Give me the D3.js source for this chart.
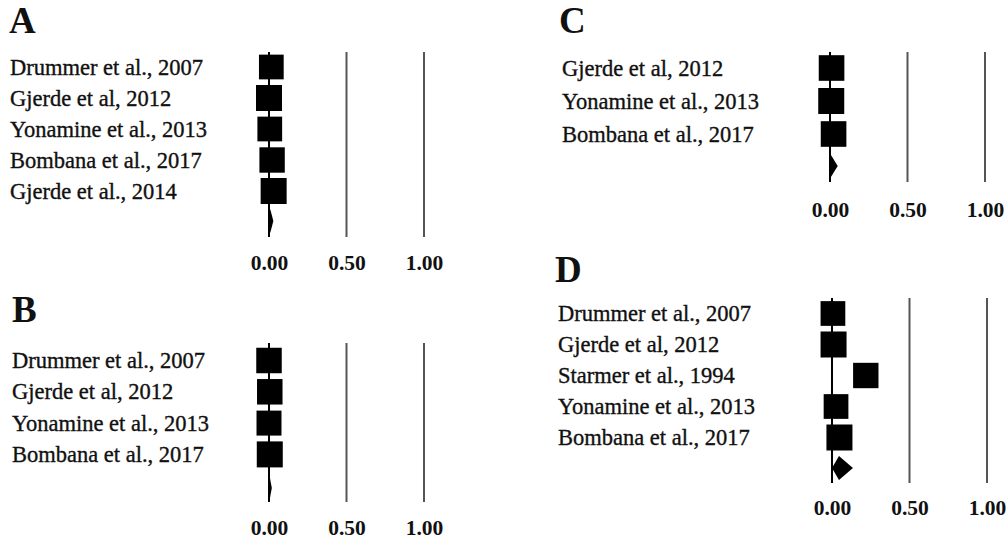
<!DOCTYPE html>
<html>
<head>
<meta charset="utf-8">
<script src="https://cdn.jsdelivr.net/npm/d3@7"></script>
<style>
  html, body { margin: 0; padding: 0; background: #fff; }
  svg { display: block; }
  text { font-family: "Liberation Serif", "Times New Roman", serif; fill: #111; }
</style>
</head>
<body>
<svg id="chart" width="1008" height="544"></svg>
<script>
// Forest plots: pooled proportions per study, four sub-analyses (A–D)

const tickValues = [0, 0.5, 1];

// Panel A
const studiesA = ["Drummer et al., 2007", "Gjerde et al, 2012", "Yonamine et al., 2013", "Bombana et al., 2017", "Gjerde et al., 2014"];
const estimatesA = [0.015, 0.0, 0.005, 0.02, 0.03];
const weightsA = [19, 21, 19, 20, 21];
const pooledA = [0.008, 0.0, 0.028];   // estimate, lower, upper

// Panel B
const studiesB = ["Drummer et al., 2007", "Gjerde et al, 2012", "Yonamine et al., 2013", "Bombana et al., 2017"];
const estimatesB = [0.0, 0.005, 0.0, 0.005];
const weightsB = [25, 25, 24, 26];
const pooledB = [0.004, 0.0, 0.018];

// Panel C
const studiesC = ["Gjerde et al, 2012", "Yonamine et al., 2013", "Bombana et al., 2017"];
const estimatesC = [0.01, 0.008, 0.023];
const weightsC = [33, 34, 33];
const pooledC = [0.002, 0.0, 0.05];

// Panel D
const studiesD = ["Drummer et al., 2007", "Gjerde et al, 2012", "Starmer et al., 1994", "Yonamine et al., 2013", "Bombana et al., 2017"];
const estimatesD = [0.006, 0.01, 0.218, 0.026, 0.048];
const weightsD = [19, 21, 20, 19, 21];
const pooledD = [0.045, 0.0, 0.135];

const svg = d3.select("#chart");

const panels = [
  { letter: "A", lx: 9,   ly: 33,  tx: 10,  zero: 269, top: 52,  bottom: 237, row0: 67,    step: 31,  pooledY: 221, tickY: 270,
    studies: studiesA, est: estimatesA, w: weightsA, pooled: pooledA },
  { letter: "B", lx: 12,  ly: 322, tx: 12,  zero: 269, top: 343, bottom: 502, row0: 360.5, step: 31.3, pooledY: 488, tickY: 535,
    studies: studiesB, est: estimatesB, w: weightsB, pooled: pooledB },
  { letter: "C", lx: 559, ly: 33,  tx: 562, zero: 830, top: 52,  bottom: 182, row0: 68,    step: 33,  pooledY: 166, tickY: 217,
    studies: studiesC, est: estimatesC, w: weightsC, pooled: pooledC },
  { letter: "D", lx: 555, ly: 282, tx: 558, zero: 832, top: 298, bottom: 483, row0: 313.5, step: 31,  pooledY: 468, tickY: 515,
    studies: studiesD, est: estimatesD, w: weightsD, pooled: pooledD }
];

panels.forEach(p => {
  const g = svg.append("g");
  const x = d3.scaleLinear().domain([0, 1]).range([p.zero, p.zero + 155]);
  const y = d3.scalePoint()
    .domain(p.studies)
    .range([p.row0, p.row0 + p.step * (p.studies.length - 1)]);
  const side = d3.scaleSqrt().domain([0, d3.max(p.w)]).range([0, 26]);

  // panel letter
  g.append("text")
    .attr("x", p.lx).attr("y", p.ly)
    .attr("font-size", 37).attr("font-weight", "bold")
    .text(p.letter);

  // reference lines at 0.50 and 1.00
  g.selectAll("line.ref")
    .data(tickValues.filter(v => v > 0))
    .join("line")
    .attr("class", "ref")
    .attr("x1", d => x(d)).attr("x2", d => x(d))
    .attr("y1", p.top).attr("y2", p.bottom)
    .attr("stroke", "#555").attr("stroke-width", 2);

  // line of no effect
  g.append("line")
    .attr("x1", x(0)).attr("x2", x(0))
    .attr("y1", p.top).attr("y2", p.bottom)
    .attr("stroke", "#000").attr("stroke-width", 2);

  // study labels
  g.selectAll("text.study")
    .data(p.studies)
    .join("text")
    .attr("class", "study")
    .attr("x", p.tx)
    .attr("y", d => y(d))
    .attr("dy", "0.34em")
    .attr("font-size", 22.5)
    .attr("stroke", "#111")
    .attr("stroke-width", 0.35)
    .text(d => d);

  // study squares sized by weight
  const rows = p.studies.map((s, i) => ({ s, e: p.est[i], w: p.w[i] }));
  g.selectAll("rect.study")
    .data(rows)
    .join("rect")
    .attr("class", "study")
    .attr("x", d => x(d.e) - side(d.w) / 2)
    .attr("y", d => y(d.s) - side(d.w) / 2)
    .attr("width", d => side(d.w))
    .attr("height", d => side(d.w))
    .attr("fill", "#000");

  // pooled estimate diamond
  const [pe, plo, phi] = p.pooled;
  const h = 12;
  g.append("path")
    .attr("d", d3.line()([
      [x(plo), p.pooledY],
      [x(pe), p.pooledY - h],
      [x(phi), p.pooledY],
      [x(pe), p.pooledY + h]
    ]) + "Z")
    .attr("fill", "#000");

  // bottom tick labels
  const axis = d3.axisBottom(x)
    .tickValues(tickValues)
    .tickFormat(d3.format(".2f"))
    .tickSize(0);
  const ax = g.append("g")
    .attr("transform", `translate(0,${p.tickY})`)
    .call(axis);
  ax.select(".domain").remove();
  ax.selectAll("text")
    .attr("y", 0).attr("dy", 0)
    .attr("font-family", "Liberation Serif, serif")
    .attr("font-size", 21.5)
    .attr("font-weight", "bold")
    .attr("fill", "#111");
});
</script>
</body>
</html>
